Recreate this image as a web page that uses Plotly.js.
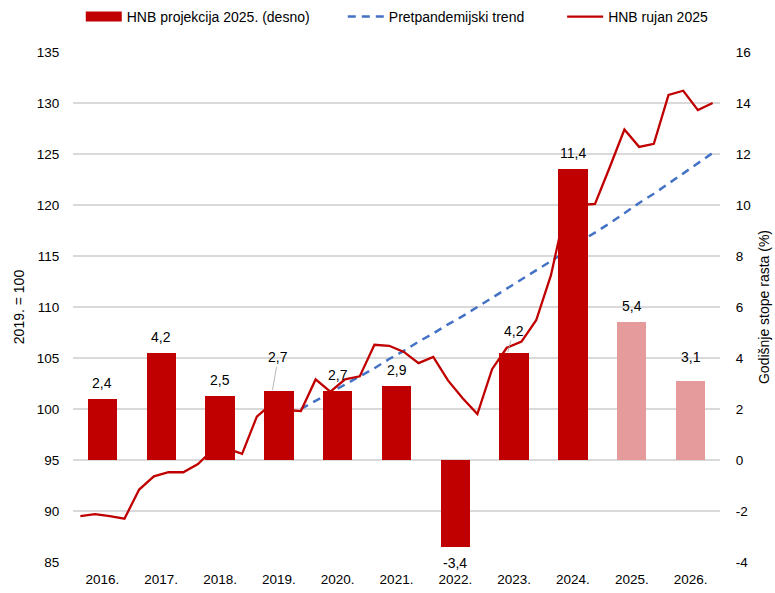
<!DOCTYPE html>
<html>
<head>
<meta charset="utf-8">
<script src="https://cdn.plot.ly/plotly-3.0.1.min.js"></script>
<style>
html,body{margin:0;padding:0;background:#ffffff;}
#chart{width:775px;height:593px;}
</style>
</head>
<body>
<div id="chart"></div>
<script>
// ---------- data ----------
const years = ['2016.','2017.','2018.','2019.','2020.','2021.','2022.','2023.','2024.','2025.','2026.'];
// annual growth rates, % (right axis)
const growthRates = [2.4, 4.2, 2.5, 2.7, 2.7, 2.9, -3.4, 4.2, 11.4, 5.4, 3.1];
// first projected year (lighter bars)
const firstProjectionYear = '2025.';
// quarterly index, 2019 = 100 (left axis), 2016 Q1 ... 2026 Q4
const hnbIndex = [
  89.5, 89.7, 89.5, 89.25,
  92.1, 93.4, 93.8, 93.8,
  94.6, 96.0, 96.1, 95.6,
  99.25, 100.5, 99.9, 99.8,
  102.9, 101.7, 102.9, 103.2,
  106.3, 106.2, 105.6, 104.5,
  105.1, 102.8, 101.05, 99.5,
  103.9, 106.0, 106.6, 108.7,
  113.1, 119.6, 120.0, 120.1,
  123.7, 127.4, 125.7, 126.0,
  130.8, 131.2, 129.3, 130.0
];
// pre-pandemic trend, starts 2019 Q4
const trendIndex = [
  null, null, null, null,
  null, null, null, null,
  null, null, null, null,
  null, null, null, 100.0,
  100.8, 101.6, 102.4, 103.2,
  104.0, 104.9, 105.7, 106.6,
  107.4, 108.3, 109.1, 110.0,
  110.9, 111.8, 112.7, 113.6,
  114.5, 115.4, 116.4, 117.3,
  118.2, 119.2, 120.2, 121.1,
  122.1, 123.1, 124.1, 125.1
];
// axis ticks
const leftTicks = [85, 90, 95, 100, 105, 110, 115, 120, 125, 130, 135];
const rightTicks = [-4, -2, 0, 2, 4, 6, 8, 10, 12, 14, 16];
const seriesNames = ['HNB projekcija 2025. (desno)', 'Pretpandemijski trend', 'HNB rujan 2025'];

// ---------- build ----------
const QPY = 4; // quarters per year on the shared x scale
const quarterX = hnbIndex.map((_, i) => i + 0.5);
const yearX = years.map((_, k) => k * QPY + QPY / 2);
const projStart = years.indexOf(firstProjectionYear);

const DARK = '#C00000';
const LIGHT = 'rgb(229,155,155)';
const BLUE = '#4472C4';
const FONT = 'Liberation Sans, Arial, sans-serif';

const traces = [
  {
    type: 'scatter', mode: 'lines', name: seriesNames[1], legend: 'legend2',
    x: quarterX, y: trendIndex, xaxis: 'x', yaxis: 'y',
    line: {color: BLUE, width: 2.5, dash: '8px,6px'}, hoverinfo: 'skip'
  },
  {
    type: 'scatter', mode: 'lines', name: seriesNames[2], legend: 'legend3',
    x: quarterX, y: hnbIndex, xaxis: 'x', yaxis: 'y',
    line: {color: DARK, width: 2.3}, hoverinfo: 'skip'
  },
  {
    type: 'bar', name: seriesNames[0], showlegend: false,
    x: yearX, y: growthRates, xaxis: 'x', yaxis: 'y2', width: 2,
    marker: {color: years.map((_, k) => k >= projStart ? LIGHT : DARK), line: {width: 0}},
    hoverinfo: 'skip'
  },
  {
    // legend swatch for the bars (wide rectangle like the original)
    type: 'scatter', mode: 'lines', name: seriesNames[0], legend: 'legend',
    x: [null], y: [null], xaxis: 'x', yaxis: 'y2',
    line: {color: DARK, width: 13}, hoverinfo: 'skip'
  }
];

const fmt = v => v.toFixed(1).replace('.', ',');
const annotations = growthRates.map((v, k) => ({
  x: yearX[k], y: v, xref: 'x', yref: 'y2', text: fmt(v),
  showarrow: false, font: {family: FONT, size: 14, color: '#000'},
  yanchor: v >= 0 ? 'bottom' : 'top', yshift: v >= 0 ? 6 : -6
}));
// labels with leader lines
[[3, 6, -34], [7, 6, -22]].forEach(([k, ax, ay]) => {
  const a = annotations[k];
  a.showarrow = true; a.arrowhead = 0; a.arrowwidth = 0.8; a.arrowcolor = '#a6a6a6';
  a.x = yearX[k] - 0.45; a.ax = ax; a.ay = ay; a.yshift = 0; a.yanchor = 'middle'; a.standoff = 1;
});
annotations[10].yshift = 14;

const legendBase = {
  orientation: 'h', xanchor: 'left', yanchor: 'middle', y: 1.0686,
  font: {family: FONT, size: 14, color: '#000'}, bgcolor: 'rgba(0,0,0,0)', itemwidth: 36
};

const layout = {
  width: 775, height: 593,
  margin: {l: 73, r: 55, t: 52, b: 31, autoexpand: false},
  paper_bgcolor: '#ffffff', plot_bgcolor: '#ffffff',
  font: {family: FONT, size: 14, color: '#000'},
  showlegend: true,
  legend: Object.assign({}, legendBase, {x: 0.012}),
  legend2: Object.assign({}, legendBase, {x: 0.417}),
  legend3: Object.assign({}, legendBase, {x: 0.756}),
  bargap: 0,
  xaxis: {
    range: [0, 44], tickvals: yearX, ticktext: years,
    showgrid: false, zeroline: false, showline: false,
    ticks: 'outside', ticklen: 5, tickcolor: 'rgba(0,0,0,0)',
    tickfont: {family: FONT, size: 13.5, color: '#000'}, fixedrange: true
  },
  yaxis: {
    range: [85, 135], tickvals: leftTicks, ticktext: leftTicks.map(String),
    showgrid: true, gridcolor: '#d9d9d9', gridwidth: 2,
    zeroline: false, showline: false,
    ticks: 'outside', ticklen: 10, tickcolor: 'rgba(0,0,0,0)',
    tickfont: {family: FONT, size: 13.5, color: '#000'},
    title: {text: '2019. = 100', font: {family: FONT, size: 14, color: '#000'}, standoff: 8},
    fixedrange: true
  },
  yaxis2: {
    overlaying: 'y', side: 'right',
    range: [-4, 16], tickvals: rightTicks, ticktext: rightTicks.map(String),
    showgrid: false, zeroline: false, showline: false,
    ticks: 'outside', ticklen: 12, tickcolor: 'rgba(0,0,0,0)',
    tickfont: {family: FONT, size: 13.5, color: '#000'},
    title: {text: 'Godišnje stope rasta (%)', font: {family: FONT, size: 14, color: '#000'}, standoff: 8},
    fixedrange: true
  },
  annotations: annotations
};

Plotly.newPlot('chart', traces, layout, {displayModeBar: false, staticPlot: true});
</script>
</body>
</html>
